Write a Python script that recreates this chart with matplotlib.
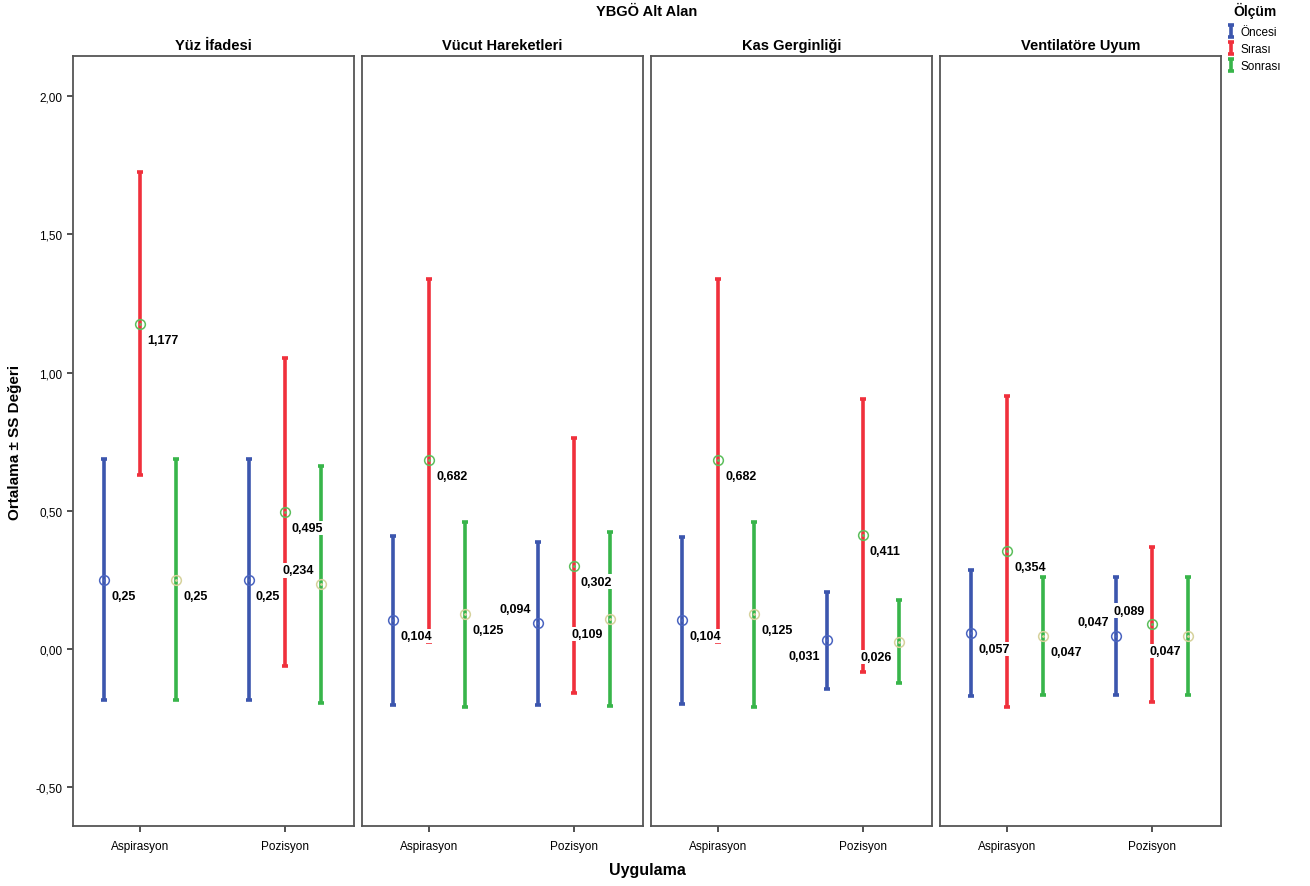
import numpy as np
import matplotlib.pyplot as plt
import matplotlib.ticker as ticker

plt.rcParams['font.family'] = ['Liberation Sans', 'DejaVu Sans']

panels = ['Yüz İfadesi', 'Vücut Hareketleri', 'Kas Gerginliği', 'Ventilatöre Uyum']
groups = ['Aspirasyon', 'Pozisyon']
series = ['Öncesi', 'Sırası', 'Sonrası']

# mean and SD per panel, [Aspirasyon, Pozisyon]
once_mean = [[0.25, 0.25], [0.104, 0.094], [0.104, 0.031], [0.057, 0.047]]
once_sd = [[0.436, 0.436], [0.305, 0.295], [0.302, 0.176], [0.228, 0.212]]
sira_mean = [[1.177, 0.495], [0.682, 0.302], [0.682, 0.411], [0.354, 0.089]]
sira_sd = [[0.548, 0.557], [0.655, 0.460], [0.655, 0.493], [0.562, 0.280]]
sonra_mean = [[0.25, 0.234], [0.125, 0.109], [0.125, 0.026], [0.047, 0.047]]
sonra_sd = [[0.436, 0.428], [0.333, 0.315], [0.333, 0.150], [0.212, 0.212]]

means = [once_mean, sira_mean, sonra_mean]
sds = [once_sd, sira_sd, sonra_sd]

line_cols = ['#3c56ae', '#f0303c', '#38b54a']
mark_cols = ['#4a64c0', '#5cbf5c', '#d6d29c']
offsets = [-0.25, 0.0, 0.25]

# labels that SPSS moved to the left of the bar (panel, group, series): up/down
left_labels = {(0, 1, 2): 'up', (1, 1, 0): 'up', (1, 1, 2): 'down',
               (2, 1, 0): 'down', (2, 1, 2): 'down', (3, 1, 0): 'up',
               (3, 1, 1): 'up', (3, 1, 2): 'down'}


def fmt(v):
    return ('%.3f' % v).rstrip('0').replace('.', ',')


fig = plt.figure(figsize=(13.1, 8.87), dpi=100)
lefts = [73, 362, 651, 940]
W, H = 1310, 887
handles = []
for p, name in enumerate(panels):
    ax = fig.add_axes([lefts[p] / W, 60 / H, 281 / W, 770 / H])
    x = np.arange(len(groups))
    for s in range(3):
        m = np.array(means[s][p])
        e = np.array(sds[s][p])
        eb = ax.errorbar(x + offsets[s], m, yerr=e, fmt='none', ecolor=line_cols[s],
                         elinewidth=2.6, capsize=2.2, capthick=2.6, zorder=2)
        if p == 0:
            handles.append(eb)
        ax.plot(x + offsets[s], m, 'o', mfc='none', mec=mark_cols[s], ms=7, mew=1.1, zorder=3)
        ax.plot(x + offsets[s], m, '.', color=mark_cols[s], ms=2, zorder=3)
        for g in range(len(groups)):
            key = (p, g, s)
            if key in left_labels:
                dy = 10 if left_labels[key] == 'up' else -11
                xy, ha = (-5, dy), 'right'
            else:
                xy, ha = (5, -11.5), 'left'
            ax.annotate(fmt(m[g]), (x[g] + offsets[s], m[g]), xytext=xy,
                        textcoords='offset points', ha=ha, va='center',
                        fontsize=9, fontweight='bold', zorder=5,
                        bbox=dict(fc='white', ec='none', pad=0.8))
    ax.set_xlim(-0.465, 1.48)
    ax.set_ylim(-0.64, 2.145)
    ax.set_xticks(x)
    ax.set_xticklabels(groups, fontsize=8.5)
    ax.tick_params(axis='x', length=4, width=1.2, color='#333333', pad=6)
    ax.set_title(name, fontsize=10.5, fontweight='bold', pad=5)
    for sp in ax.spines.values():
        sp.set_color('#555555')
        sp.set_linewidth(1.3)
    if p == 0:
        ax.set_yticks([-0.5, 0, 0.5, 1, 1.5, 2])
        ax.yaxis.set_major_formatter(ticker.FuncFormatter(lambda v, pos: ('%.2f' % v).replace('.', ',')))
        ax.tick_params(axis='y', length=4, width=1.2, color='#333333', labelsize=8.5)
        ax.set_ylabel('Ortalama ± SS Değeri', fontsize=11, fontweight='bold', labelpad=10)
    else:
        ax.set_yticks([])

fig.text(647 / W, 1 - 12 / H, 'YBGÖ Alt Alan', ha='center', va='center', fontsize=10.5, fontweight='bold')
fig.text(647 / W, 1 - 871 / H, 'Uygulama', ha='center', va='center', fontsize=11.5, fontweight='bold')

leg = fig.legend(handles, series, title='Ölçüm', loc='upper left',
                 bbox_to_anchor=(1219 / W, 1 + 7 / H), frameon=False, fontsize=8.5,
                 handlelength=0.5, handleheight=0.7, handletextpad=0.5, labelspacing=0.45,
                 borderpad=0.3, title_fontproperties={'weight': 'bold', 'size': 10})
leg._legend_box.align = 'center'
leg._legend_box.sep = 6

fig.savefig('out.png', dpi=100)
